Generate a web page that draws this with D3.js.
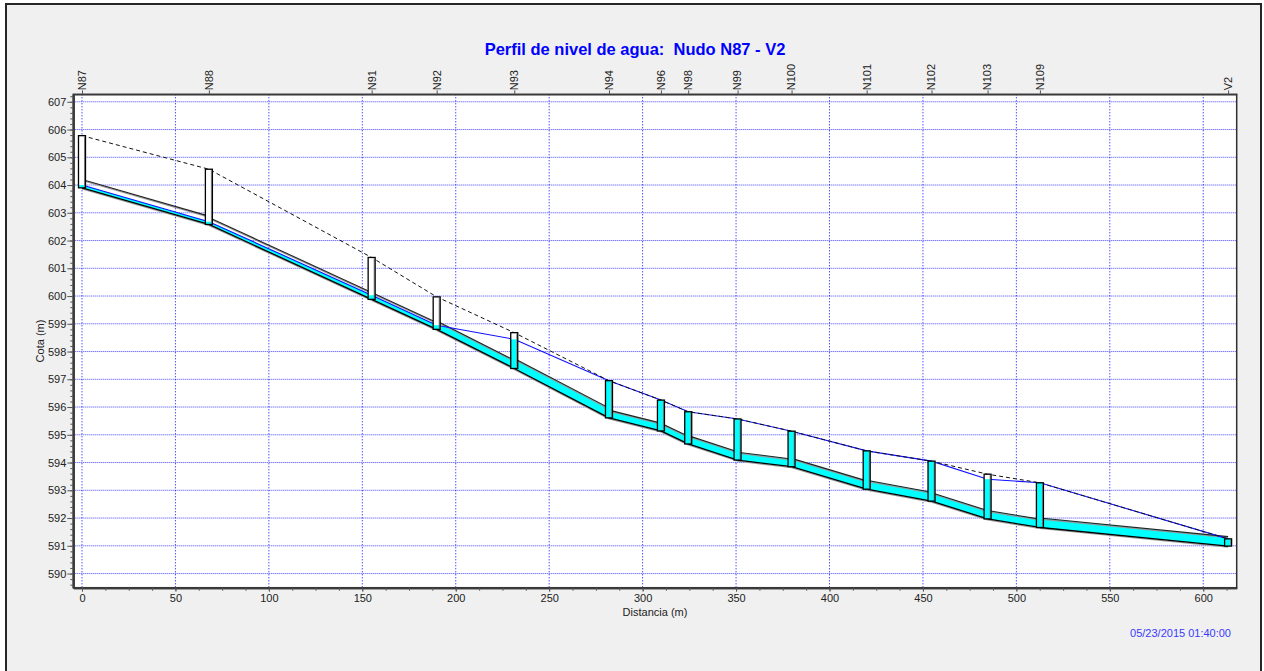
<!DOCTYPE html>
<html>
<head>
<meta charset="utf-8">
<script src="https://cdn.jsdelivr.net/npm/d3@7/dist/d3.min.js"></script>
<style>
  html, body { margin: 0; padding: 0; background: #ffffff; }
  svg { display: block; font-family: "Liberation Sans", Arial, sans-serif; }
</style>
</head>
<body>
<svg id="chart" width="1264" height="671"></svg>
<script>
// ---------- data ----------
const nodeNames = ["N87","N88","N91","N92","N93","N94","N96","N98","N99","N100","N101","N102","N103","N109","V2"];
const nodeDist = [0, 67.9, 155, 189.8, 231.3, 282, 309.8, 324.4, 350.8, 379.7, 419.9, 454.6, 484.6, 512.6, 613.3];
const groundElev = [605.78, 604.57, 601.39, 599.97, 598.68, 596.95, 596.25, 595.83, 595.57, 595.13, 594.42, 594.05, 593.58, 593.27, 591.25];
const invertElev = [603.90, 602.58, 599.88, 598.80, 597.39, 595.61, 595.14, 594.67, 594.09, 593.85, 593.04, 592.61, 591.97, 591.66, 590.99];
const headElev = [604.00, 602.68, 600.03, 598.95, 598.44, 596.95, 596.25, 595.83, 595.57, 595.13, 594.42, 594.05, 593.40, 593.27, 591.25];
const pipeDiam = [0.30, 0.25, 0.25, 0.30, 0.36, 0.28, 0.28, 0.30, 0.28, 0.30, 0.32, 0.30, 0.30, 0.34];

const xTicks = [0, 50, 100, 150, 200, 250, 300, 350, 400, 450, 500, 550, 600];
const yTicks = [590, 591, 592, 593, 594, 595, 596, 597, 598, 599, 600, 601, 602, 603, 604, 605, 606, 607];
const titleText = "Perfil de nivel de agua:  Nudo N87 - V2";
const xTitle = "Distancia (m)";
const yTitle = "Cota (m)";
const stampText = "05/23/2015 01:40:00";

// ---------- layout ----------
const L = 73.3, R = 1236.7, T = 94.3, B = 587.7;
const svg = d3.select("#chart");

const x = d3.scaleLinear().domain([-4.65, 617.9]).range([L, R]);
const y = d3.scaleLinear().domain([589.49, 607.27]).range([B, T]);

// outer panel
svg.append("rect").attr("x", 6).attr("y", 4).attr("width", 1255).attr("height", 690)
  .attr("fill", "#f0f0f0").attr("stroke", "#262626").attr("stroke-width", 2);

// plot area
svg.append("rect").attr("x", L).attr("y", T).attr("width", R - L).attr("height", B - T)
  .attr("fill", "#ffffff");

// grid
const grid = svg.append("g");
grid.selectAll("line.h").data(yTicks).join("line")
  .attr("x1", L).attr("x2", R).attr("y1", d => y(d)).attr("y2", d => y(d))
  .attr("stroke", "#3030ff").attr("stroke-width", 1).attr("stroke-dasharray", "1,1").attr("opacity", 0.9);
grid.selectAll("line.v").data(xTicks).join("line")
  .attr("y1", T).attr("y2", B).attr("x1", d => x(d)).attr("x2", d => x(d))
  .attr("stroke", "#0000ff").attr("stroke-width", 1).attr("stroke-dasharray", "1,2");

// pipes
const pipes = d3.range(nodeDist.length - 1).map(i => ({
  d1: nodeDist[i], d2: nodeDist[i + 1],
  i1: invertElev[i], i2: invertElev[i + 1],
  h1: headElev[i], h2: headElev[i + 1],
  dia: pipeDiam[i]
}));
const gp = svg.append("g");
pipes.forEach(p => {
  const n = 40;
  const top = [], bot = [];
  for (let k = 0; k <= n; k++) {
    const t = k / n;
    const dd = p.d1 + t * (p.d2 - p.d1);
    const inv = p.i1 + t * (p.i2 - p.i1);
    const h = p.h1 + t * (p.h2 - p.h1);
    const w = Math.min(Math.max(h, inv), inv + p.dia);
    top.push([x(dd), y(w)]);
    bot.push([x(dd), y(inv)]);
  }
  const poly = top.concat(bot.reverse());
  gp.append("path").attr("d", "M" + poly.map(q => q.join(",")).join("L") + "Z")
    .attr("fill", "#00ffff").attr("stroke", "none");
  gp.append("line").attr("x1", x(p.d1)).attr("x2", x(p.d2))
    .attr("y1", y(p.i1 + p.dia) + 1).attr("y2", y(p.i2 + p.dia) + 1)
    .attr("stroke", "#9a9a9a").attr("stroke-width", 1.2);
  gp.append("line").attr("x1", x(p.d1)).attr("x2", x(p.d2))
    .attr("y1", y(p.i1 + p.dia)).attr("y2", y(p.i2 + p.dia))
    .attr("stroke", "#222").attr("stroke-width", 1.1);
  gp.append("line").attr("x1", x(p.d1)).attr("x2", x(p.d2))
    .attr("y1", y(p.i1) + 1).attr("y2", y(p.i2) + 1)
    .attr("stroke", "#9a9a9a").attr("stroke-width", 1.2);
  gp.append("line").attr("x1", x(p.d1)).attr("x2", x(p.d2))
    .attr("y1", y(p.i1)).attr("y2", y(p.i2))
    .attr("stroke", "#000").attr("stroke-width", 1.3);
});

// hydraulic grade line
const lineGen = d3.line().x(d => x(d[0])).y(d => y(d[1]));
svg.append("path").datum(nodeDist.map((d, i) => [d, headElev[i]]))
  .attr("d", lineGen).attr("fill", "none").attr("stroke", "#1010ff").attr("stroke-width", 1.1);

// ground line
svg.append("path").datum(nodeDist.map((d, i) => [d, groundElev[i]]))
  .attr("d", lineGen).attr("fill", "none").attr("stroke", "#111").attr("stroke-width", 1)
  .attr("stroke-dasharray", "4,3");

// manholes
const mw = 7;
const gm = svg.append("g");
nodeDist.forEach((d, i) => {
  const cx = x(d);
  const yt = y(groundElev[i]), yb = y(invertElev[i]);
  gm.append("rect").attr("x", cx - mw / 2).attr("y", yt).attr("width", mw).attr("height", yb - yt)
    .attr("fill", "#ffffff");
  const yw = y(Math.min(headElev[i], groundElev[i]));
  gm.append("rect").attr("x", cx - mw / 2).attr("y", yw).attr("width", mw).attr("height", Math.max(0, yb - yw))
    .attr("fill", "#00ffff");
  gm.append("line").attr("x1", cx + mw / 2 - 1).attr("x2", cx + mw / 2 - 1).attr("y1", yt + 1).attr("y2", yb - 1)
    .attr("stroke", "#8a8a8a").attr("stroke-width", 1);
  gm.append("rect").attr("x", cx - mw / 2).attr("y", yt).attr("width", mw).attr("height", yb - yt)
    .attr("fill", "none").attr("stroke", "#000").attr("stroke-width", 1.3);
});

// plot frame
svg.append("rect").attr("x", L).attr("y", T).attr("width", R - L).attr("height", B - T)
  .attr("fill", "none").attr("stroke", "#303030").attr("stroke-width", 1.5);

// axes
const fmt = d3.format("d");
const axL = svg.append("g").attr("transform", `translate(${L},0)`)
  .call(d3.axisLeft(y).tickValues(yTicks).tickFormat(fmt).tickSizeInner(6).tickSizeOuter(0).tickPadding(1));
const axLm = svg.append("g").attr("transform", `translate(${L},0)`)
  .call(d3.axisLeft(y).tickValues(d3.range(589.6, 607.2, 0.2)).tickFormat("").tickSizeInner(3).tickSizeOuter(0));
const axB = svg.append("g").attr("transform", `translate(0,${B})`)
  .call(d3.axisBottom(x).tickValues(xTicks).tickFormat(fmt).tickSizeInner(4).tickSizeOuter(0).tickPadding(3));
const axBm = svg.append("g").attr("transform", `translate(0,${B})`)
  .call(d3.axisBottom(x).tickValues(d3.range(0, 617.5, 12.5)).tickFormat("").tickSizeInner(3).tickSizeOuter(0));
const axT = svg.append("g").attr("transform", `translate(0,${T})`)
  .call(d3.axisTop(x).tickValues(nodeDist).tickFormat("").tickSizeInner(4).tickSizeOuter(0));

[axL, axLm, axB, axBm, axT].forEach(a => {
  a.selectAll(".tick line").attr("stroke", "#555");
  a.selectAll(".tick text").attr("fill", "#222").style("font-size", "11px")
    .style("font-family", "'Liberation Sans', Arial, sans-serif");
  a.select(".domain").attr("stroke", "#3a3a3a").attr("stroke-width", 2);
});
axT.select(".domain").attr("stroke-width", 1.5);

// node labels (rotated)
svg.append("g").selectAll("text").data(nodeNames).join("text")
  .attr("transform", (d, i) => `translate(${x(nodeDist[i])},${T - 4}) rotate(-90)`)
  .attr("dy", "0.35em").attr("text-anchor", "start")
  .attr("fill", "#222").style("font-size", "11px")
  .text(d => d);

// titles
svg.append("text").attr("x", 635).attr("y", 55).attr("text-anchor", "middle")
  .attr("fill", "#0000ff").style("font-size", "16.5px").style("font-weight", "bold")
  .style("white-space", "pre").attr("xml:space", "preserve")
  .text(titleText);
svg.append("text").attr("x", (L + R) / 2).attr("y", 616).attr("text-anchor", "middle")
  .attr("fill", "#222").style("font-size", "11px").text(xTitle);
svg.append("text").attr("transform", `translate(44,${(T + B) / 2}) rotate(-90)`).attr("text-anchor", "middle")
  .attr("fill", "#222").style("font-size", "11px").text(yTitle);
svg.append("text").attr("x", 1231).attr("y", 637).attr("text-anchor", "end")
  .attr("fill", "#3a3aff").style("font-size", "11px").text(stampText);
</script>
</body>
</html>
